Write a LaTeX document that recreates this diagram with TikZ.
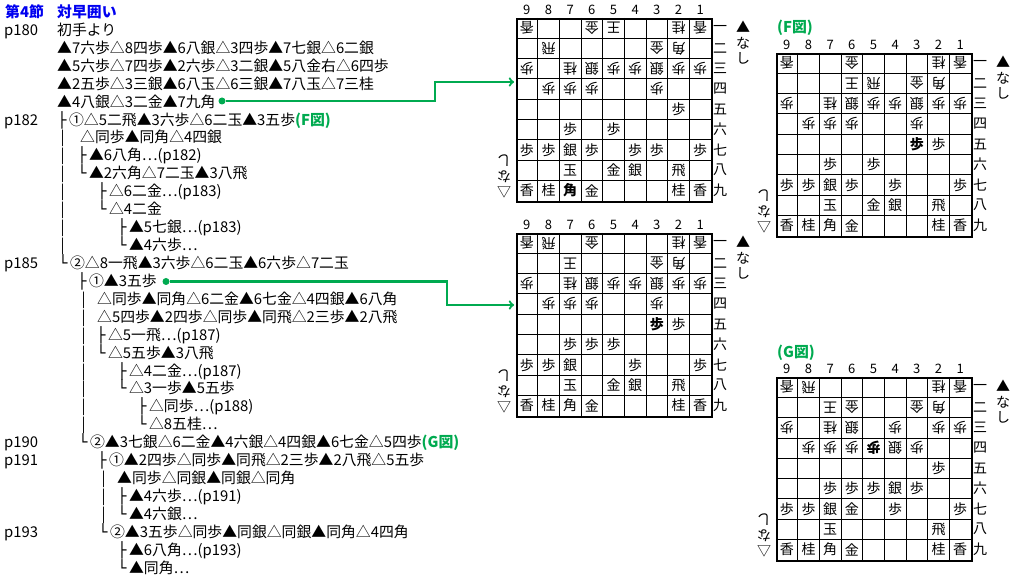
\documentclass[tikz,border=0pt]{standalone}
\usepackage{fontspec}
\setmainfont{Noto Sans CJK JP}
\newfontfamily\boxfont{DejaVu Sans}
\definecolor{figgreen}{RGB}{0,170,80}
\definecolor{headblue}{RGB}{0,0,240}
\newcommand{\kan}[1]{\ifcase#1\or 一\or 二\or 三\or 四\or 五\or 六\or 七\or 八\or 九\fi}
\newcommand{\tb}{{\boxfont ├}\kern2.5pt}
\newcommand{\te}{{\boxfont └}\kern2.5pt}
\newcommand{\fig}[1]{\textcolor{figgreen}{\bfseries(#1図)}}
\tikzset{
    mvline/.style={anchor=base west, inner sep=0pt, font=\fontsize{14.85}{16}\selectfont},
    headline/.style={mvline, text=headblue, font=\fontsize{14.85}{16}\selectfont\bfseries},
    boardframe/.style={draw, line width=2pt, anchor=north west, inner sep=0pt, minimum width=195pt, minimum height=182.7pt},
    cellline/.style={line width=0.8pt},
    colno/.style={inner sep=0pt, font=\fontsize{13}{13}\selectfont},
    rowno/.style={inner sep=0pt, font=\fontsize{14}{14}\selectfont},
    handbox/.style={inner sep=0pt, align=center, font=\fontsize{14}{15.5}\selectfont},
    sp/.style={inner sep=0pt, font=\fontsize{14}{14}\selectfont},
    gp/.style={sp, rotate=180},
    sb/.style={sp, font=\fontsize{14}{14}\selectfont\bfseries},
    gb/.style={sb, rotate=180},
    movedot/.style={circle, fill=figgreen, inner sep=0pt, minimum size=7pt},
    golink/.style={draw=figgreen, line width=2.2pt, ->},
    figlabel/.style={anchor=west, inner sep=0pt, text=figgreen, font=\fontsize{14.85}{16}\selectfont\bfseries},
}
\newcommand{\shogiboard}[3]{%
    \def\bx{#2}\def\by{#3}
    \node[boardframe] at (#2,#3) (#1) {};
    \foreach \i in {1,...,8} {
        \draw[cellline] ({#2+\i*21.667},#3) -- ++(0,182.7);
        \draw[cellline] (#2,{#3+\i*20.3}) -- ++(195,0);
    }
    \foreach \i in {1,...,9} {
        \node[colno] at ({#2+(9.5-\i)*21.667},{#3-8}) (#1-c\i) {\i};
        \node[rowno] at ({#2+204},{#3+(\i-0.5)*20.3}) (#1-r\i) {\kan{\i}};
    }
    \node[handbox] at ({#2+227},{#3+25}) (#1-s) {▲\\な\\し};
    \node[handbox,rotate=180] at ({#2-12},{#3+158.7}) (#1-g) {△\\な\\し};
}
\newcommand{\pieces}[3]{%
    \foreach \cl/\rw/\pc in {#3}
        \node[#2] at ({\bx+(9.5-\cl)*21.667},{\by+(\rw-0.5)*20.3}) (#1-\cl\rw) {\pc};
}
\begin{document}
\begin{tikzpicture}[x=1pt,y=-1pt]
    \useasboundingbox (0,0) rectangle (1018,577);
    \node[headline] at (5,17.5) (SEC) {第4節};
    \node[headline] at (57,17.5) (TTL) {対早囲い};
    \node[mvline] at (4,35.4) (P180) {p180};
    \node[mvline] at (57,35.4) (L1) {初手より};
    \node[mvline] at (57,53.4) (L2) {▲7六歩△8四歩▲6八銀△3四歩▲7七銀△6二銀};
    \node[mvline] at (57,71.3) (L3) {▲5六歩△7四歩▲2六歩△3二銀▲5八金右△6四歩};
    \node[mvline] at (57,89.2) (L4) {▲2五歩△3三銀▲6八玉△6三銀▲7八玉△7三桂};
    \node[mvline] at (57,107.2) (L5) {▲4八銀△3二金▲7九角};
    \node[mvline] at (4,125.1) (P182) {p182};
    \node[mvline] at (57.5,125.1) (L6) {\tb①△5二飛▲3六歩△6二玉▲3五歩\fig{F}};
    \node[mvline] at (60.3,143.0) (V7) {|};
    \node[mvline] at (80,143.0) (L7) {△同歩▲同角△4四銀};
    \node[mvline] at (60.3,160.9) (V8) {|};
    \node[mvline] at (77.5,160.9) (L8) {\tb▲6八角…(p182)};
    \node[mvline] at (60.3,178.9) (V9) {|};
    \node[mvline] at (77.5,178.9) (L9) {\te▲2六角△7二玉▲3八飛};
    \node[mvline] at (60.3,196.8) (V10) {|};
    \node[mvline] at (97.5,196.8) (L10) {\tb△6二金…(p183)};
    \node[mvline] at (60.3,214.7) (V11) {|};
    \node[mvline] at (97.5,214.7) (L11) {\te△4二金};
    \node[mvline] at (60.3,232.7) (V12) {|};
    \node[mvline] at (117.5,232.7) (L12) {\tb▲5七銀…(p183)};
    \node[mvline] at (60.3,250.6) (V13) {|};
    \node[mvline] at (117.5,250.6) (L13) {\te▲4六歩…};
    \node[mvline] at (4,268.5) (P185) {p185};
    \node[mvline] at (58.5,268.5) (L14) {\te②△8一飛▲3六歩△6二玉▲6六歩△7二玉};
    \node[mvline] at (77.5,286.5) (L15) {\tb①▲3五歩};
    \node[mvline] at (81.3,304.4) (V16) {|};
    \node[mvline] at (97,304.4) (L16) {△同歩▲同角△6二金▲6七金△4四銀▲6八角};
    \node[mvline] at (81.3,322.3) (V17) {|};
    \node[mvline] at (97,322.3) (L17) {△5四歩▲2四歩△同歩▲同飛△2三歩▲2八飛};
    \node[mvline] at (81.3,340.2) (V18) {|};
    \node[mvline] at (96.5,340.2) (L18) {\tb△5一飛…(p187)};
    \node[mvline] at (81.3,358.2) (V19) {|};
    \node[mvline] at (96.5,358.2) (L19) {\te△5五歩▲3八飛};
    \node[mvline] at (81.3,376.1) (V20) {|};
    \node[mvline] at (117.5,376.1) (L20) {\tb△4二金…(p187)};
    \node[mvline] at (81.3,394.0) (V21) {|};
    \node[mvline] at (117.5,394.0) (L21) {\te△3一歩▲5五歩};
    \node[mvline] at (81.3,412.0) (V22) {|};
    \node[mvline] at (137.5,412.0) (L22) {\tb△同歩…(p188)};
    \node[mvline] at (81.3,429.9) (V23) {|};
    \node[mvline] at (137.5,429.9) (L23) {\te△8五桂…};
    \node[mvline] at (4,447.8) (P190) {p190};
    \node[mvline] at (78.5,447.8) (L24) {\te②▲3七銀△6二金▲4六銀△4四銀▲6七金△5四歩\fig{G}};
    \node[mvline] at (4,465.8) (P191) {p191};
    \node[mvline] at (97.5,465.8) (L25) {\tb①▲2四歩△同歩▲同飛△2三歩▲2八飛△5五歩};
    \node[mvline] at (101.3,483.7) (V26) {|};
    \node[mvline] at (117,483.7) (L26) {▲同歩△同銀▲同銀△同角};
    \node[mvline] at (101.3,501.6) (V27) {|};
    \node[mvline] at (117.5,501.6) (L27) {\tb▲4六歩…(p191)};
    \node[mvline] at (101.3,519.5) (V28) {|};
    \node[mvline] at (117.5,519.5) (L28) {\te▲4六銀…};
    \node[mvline] at (4,537.5) (P193) {p193};
    \node[mvline] at (98.5,537.5) (L29) {\te②▲3五歩△同歩▲同銀△同銀▲同角△4四角};
    \node[mvline] at (117.5,555.4) (L30) {\tb▲6八角…(p193)};
    \node[mvline] at (117.5,573.3) (L31) {\te▲同角…};

    \shogiboard{BA}{516}{18}
    \pieces{BA}{gp}{9/1/香,6/1/金,5/1/王,2/1/桂,1/1/香,8/2/飛,3/2/金,2/2/角,9/3/歩,7/3/桂,6/3/銀,5/3/歩,4/3/歩,3/3/銀,2/3/歩,1/3/歩,8/4/歩,7/4/歩,6/4/歩,3/4/歩}
    \pieces{BA}{sp}{2/5/歩,7/6/歩,5/6/歩,9/7/歩,8/7/歩,7/7/銀,6/7/歩,4/7/歩,3/7/歩,1/7/歩,7/8/玉,5/8/金,4/8/銀,2/8/飛,9/9/香,8/9/桂,6/9/金,2/9/桂,1/9/香}
    \pieces{BA}{sb}{7/9/角}

    \shogiboard{BB}{516}{233}
    \pieces{BB}{gp}{9/1/香,8/1/飛,6/1/金,2/1/桂,1/1/香,7/2/王,3/2/金,2/2/角,9/3/歩,7/3/桂,6/3/銀,5/3/歩,4/3/歩,3/3/銀,2/3/歩,1/3/歩,8/4/歩,7/4/歩,6/4/歩,3/4/歩}
    \pieces{BB}{sp}{2/5/歩,7/6/歩,6/6/歩,5/6/歩,9/7/歩,8/7/歩,7/7/銀,4/7/歩,1/7/歩,7/8/玉,5/8/金,4/8/銀,2/8/飛,9/9/香,8/9/桂,7/9/角,6/9/金,2/9/桂,1/9/香}
    \pieces{BB}{sb}{3/5/歩}

    \node[figlabel] at (777,28) (FF) {(F図)};
    \shogiboard{BF}{776}{53}
    \pieces{BF}{gp}{9/1/香,6/1/金,2/1/桂,1/1/香,6/2/王,5/2/飛,3/2/金,2/2/角,9/3/歩,7/3/桂,6/3/銀,5/3/歩,4/3/歩,3/3/銀,2/3/歩,1/3/歩,8/4/歩,7/4/歩,6/4/歩,3/4/歩}
    \pieces{BF}{sp}{2/5/歩,7/6/歩,5/6/歩,9/7/歩,8/7/歩,7/7/銀,6/7/歩,4/7/歩,1/7/歩,7/8/玉,5/8/金,4/8/銀,2/8/飛,9/9/香,8/9/桂,7/9/角,6/9/金,2/9/桂,1/9/香}
    \pieces{BF}{sb}{3/5/歩}

    \node[figlabel] at (777,353) (FG) {(G図)};
    \shogiboard{BG}{776}{377}
    \pieces{BG}{gp}{9/1/香,8/1/飛,2/1/桂,1/1/香,7/2/王,6/2/金,3/2/金,2/2/角,9/3/歩,7/3/桂,6/3/銀,4/3/歩,2/3/歩,1/3/歩,8/4/歩,7/4/歩,6/4/歩,4/4/銀,3/4/歩}
    \pieces{BG}{gb}{5/4/歩}
    \pieces{BG}{sp}{2/5/歩,7/6/歩,6/6/歩,5/6/歩,4/6/銀,3/6/歩,9/7/歩,8/7/歩,7/7/銀,6/7/金,4/7/歩,1/7/歩,7/8/玉,2/8/飛,9/9/香,8/9/桂,7/9/角,6/9/金,2/9/桂,1/9/香}

    \node[movedot] at (222,101) (DA) {};
    \node[movedot] at (166,281.5) (DB) {};
    \coordinate (TA) at (514,82);
    \coordinate (TB) at (514,305);
    \draw[golink] (DA) -- ++(213,0) |- (TA);
    \draw[golink] (DB) -- ++(281,0) |- (TB);
\end{tikzpicture}
\end{document}
